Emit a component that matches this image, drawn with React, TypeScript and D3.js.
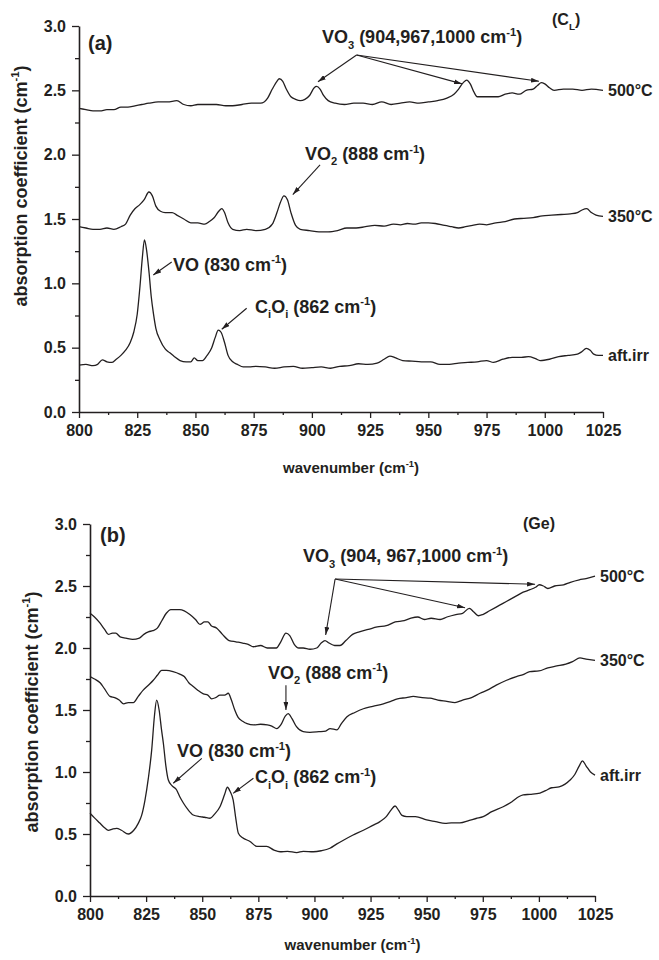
import { useEffect, useRef } from 'react';
import * as d3 from 'd3';

type Pt = [number, number];

const xTicks = [800, 825, 850, 875, 900, 925, 950, 975, 1000, 1025];
const xMinor = [812.5, 837.5, 862.5, 887.5, 912.5, 937.5, 962.5, 987.5, 1012.5];
const yTicks = [0, 0.5, 1.0, 1.5, 2.0, 2.5, 3.0];
const yMinor = [0.25, 0.75, 1.25, 1.75, 2.25, 2.75];

// panel (a), C_L sample
const a500: Pt[] = [
  [800, 2.36], [803, 2.35], [806, 2.34], [809, 2.34], [812, 2.35], [815, 2.35], [818, 2.37], [821, 2.37],
  [824, 2.38], [827, 2.39], [830, 2.4], [834, 2.41], [838, 2.41], [842, 2.42], [845, 2.39], [848, 2.38],
  [851, 2.39], [855, 2.39], [859, 2.39], [863, 2.38], [866, 2.38], [870, 2.39], [874, 2.4], [878, 2.4],
  [881, 2.44], [883, 2.51], [885, 2.57], [886, 2.59], [887.5, 2.57], [889, 2.51], [891, 2.45], [893, 2.43],
  [895, 2.42], [897, 2.43], [899, 2.46], [901, 2.52], [902, 2.53], [903.5, 2.51], [905, 2.46], [907, 2.42],
  [910, 2.4], [914, 2.39], [918, 2.4], [922, 2.4], [926, 2.39], [930, 2.41], [934, 2.39], [938, 2.4],
  [942, 2.41], [946, 2.4], [950, 2.41], [954, 2.42], [958, 2.44], [961, 2.47], [963, 2.51], [965, 2.56],
  [966.5, 2.58], [968, 2.55], [969.5, 2.49], [971, 2.45], [974, 2.45], [977, 2.45], [980, 2.45], [983, 2.47],
  [986, 2.48], [989, 2.47], [992, 2.5], [995, 2.51], [997, 2.54], [998.5, 2.56], [1000, 2.55], [1002, 2.52],
  [1004, 2.5], [1008, 2.51], [1012, 2.51], [1016, 2.5], [1020, 2.51], [1025, 2.5],
];
const a350: Pt[] = [
  [800, 1.44], [803, 1.43], [806, 1.42], [809, 1.42], [812, 1.43], [815, 1.42], [818, 1.44], [820, 1.46],
  [822, 1.53], [824, 1.58], [826, 1.61], [828, 1.65], [830, 1.71], [831.5, 1.68], [833, 1.6], [835, 1.56],
  [837, 1.55], [840, 1.55], [842, 1.53], [845, 1.5], [848, 1.47], [851, 1.47], [854, 1.46], [856, 1.48],
  [858, 1.51], [860, 1.56], [861.3, 1.58], [862.5, 1.55], [864, 1.47], [866, 1.42], [869, 1.41], [872, 1.42],
  [876, 1.41], [880, 1.42], [883, 1.46], [885, 1.55], [886.5, 1.63], [888, 1.68], [889.5, 1.65], [891, 1.55],
  [893, 1.45], [895, 1.42], [899, 1.41], [903, 1.4], [907, 1.4], [911, 1.41], [915, 1.43], [919, 1.43],
  [923, 1.44], [927, 1.45], [931, 1.445], [935, 1.46], [938, 1.455], [941, 1.465], [944, 1.46], [947, 1.47],
  [950, 1.47], [953, 1.465], [957, 1.45], [960, 1.44], [963, 1.43], [966, 1.44], [969, 1.45], [972, 1.46],
  [975, 1.455], [979, 1.47], [983, 1.48], [987, 1.5], [991, 1.505], [995, 1.51], [999, 1.525], [1003, 1.53],
  [1007, 1.535], [1011, 1.54], [1014, 1.55], [1016, 1.57], [1018, 1.58], [1020, 1.55], [1022, 1.53], [1025, 1.52],
];
const aAft: Pt[] = [
  [800, 0.365], [803, 0.37], [806, 0.36], [808, 0.37], [810, 0.405], [812, 0.39], [814, 0.385], [816, 0.41],
  [818, 0.44], [820, 0.48], [822, 0.54], [823.5, 0.62], [825, 0.76], [826.2, 0.98], [827.2, 1.2], [828.1, 1.337],
  [829, 1.26], [830.1, 1.08], [831, 0.9], [832, 0.76], [833, 0.65], [834.8, 0.56], [837, 0.49], [839, 0.46],
  [841, 0.43], [843.4, 0.4], [846, 0.39], [848, 0.39], [849.5, 0.42], [851, 0.4], [853, 0.4], [855, 0.44],
  [857, 0.5], [858.5, 0.58], [859.8, 0.637], [861, 0.62], [862.5, 0.54], [864, 0.44], [866, 0.39], [868, 0.37],
  [870.5, 0.35], [873, 0.35], [876, 0.355], [880, 0.35], [884, 0.34], [888, 0.35], [892, 0.355], [896, 0.34],
  [900, 0.345], [904, 0.35], [908, 0.34], [912, 0.355], [916, 0.36], [920, 0.375], [924, 0.37], [928, 0.38],
  [931, 0.41], [933.5, 0.435], [936, 0.42], [939, 0.4], [943, 0.395], [947, 0.39], [951, 0.39], [955, 0.37],
  [959, 0.37], [963, 0.38], [967, 0.385], [971, 0.39], [975, 0.4], [978, 0.385], [982, 0.41], [986, 0.425],
  [990, 0.425], [993, 0.43], [996, 0.415], [998, 0.4], [1002, 0.41], [1006, 0.43], [1010, 0.44], [1014, 0.45],
  [1016, 0.47], [1017.8, 0.495], [1019.5, 0.48], [1021, 0.45], [1023, 0.44], [1025, 0.44],
];

// panel (b), Ge sample
const b500: Pt[] = [
  [800, 2.28], [802, 2.25], [804.5, 2.2], [806.5, 2.15], [808.2, 2.11], [810, 2.12], [811.5, 2.12], [813.4, 2.09],
  [816, 2.08], [819, 2.07], [822, 2.08], [824, 2.11], [826, 2.13], [828, 2.14], [830, 2.16], [832, 2.22],
  [834, 2.28], [836, 2.31], [838, 2.31], [840, 2.31], [842, 2.3], [844.5, 2.27], [847, 2.23], [849, 2.19],
  [851, 2.21], [852.5, 2.21], [854, 2.18], [856.5, 2.16], [859, 2.11], [862, 2.06], [865, 2.05], [868, 2.04],
  [870.5, 2.03], [872.8, 2.01], [876, 2.02], [879, 2.0], [883, 2.0], [885, 2.05], [887.3, 2.12], [889, 2.1],
  [891, 2.03], [893, 2.0], [895, 2.0], [898, 1.99], [901, 2.0], [903, 2.04], [904.7, 2.06], [906.5, 2.04],
  [909, 2.02], [911.4, 2.02], [914, 2.06], [917, 2.11], [920, 2.13], [924, 2.15], [928, 2.17], [932, 2.18],
  [936, 2.21], [940, 2.22], [943, 2.24], [946, 2.25], [949, 2.23], [952, 2.24], [956, 2.23], [959, 2.25],
  [963, 2.27], [966, 2.28], [969, 2.32], [971, 2.29], [973, 2.26], [975, 2.27], [978, 2.3], [981, 2.33],
  [984, 2.36], [987, 2.39], [990, 2.42], [993, 2.45], [996, 2.47], [998.5, 2.49], [1000.2, 2.51], [1002, 2.5],
  [1004, 2.48], [1007, 2.5], [1011, 2.51], [1014, 2.53], [1018, 2.55], [1021, 2.56], [1025, 2.58],
];
const b350: Pt[] = [
  [800, 1.77], [802, 1.75], [804.5, 1.72], [806.5, 1.67], [808.9, 1.61], [811, 1.6], [813, 1.58], [815, 1.55],
  [817, 1.56], [819.3, 1.56], [821.5, 1.61], [823.7, 1.66], [826, 1.7], [828.2, 1.74], [830, 1.78], [831.9, 1.82],
  [834, 1.82], [837, 1.81], [840, 1.79], [842, 1.77], [844, 1.72], [846, 1.69], [848, 1.66], [850.5, 1.63],
  [852.5, 1.62], [854.2, 1.59], [856, 1.6], [857.9, 1.62], [860, 1.62], [861.6, 1.635], [863, 1.58], [864.5, 1.5],
  [866, 1.44], [868, 1.41], [870, 1.39], [873, 1.38], [876, 1.385], [879, 1.38], [881, 1.37], [883.2, 1.35],
  [885, 1.38], [887, 1.45], [888.3, 1.47], [890, 1.43], [892, 1.365], [895, 1.325], [898, 1.32], [902, 1.325],
  [905, 1.33], [907, 1.35], [910, 1.34], [912, 1.39], [914.5, 1.445], [918, 1.48], [921.8, 1.51], [926, 1.53],
  [930.7, 1.55], [934, 1.57], [937, 1.59], [941, 1.6], [944, 1.61], [948, 1.6], [951.5, 1.595], [955, 1.58],
  [959, 1.57], [962.6, 1.56], [966, 1.58], [970, 1.6], [973.8, 1.635], [977, 1.66], [981, 1.7], [985.6, 1.74],
  [990, 1.77], [993, 1.785], [996, 1.81], [1000, 1.815], [1004, 1.84], [1008, 1.855], [1012, 1.87], [1015, 1.89],
  [1018.3, 1.92], [1021, 1.91], [1025, 1.9],
];
const bAft: Pt[] = [
  [800, 0.667], [802, 0.63], [804.5, 0.586], [806.5, 0.55], [808.2, 0.53], [810, 0.54], [811.9, 0.546], [814, 0.53],
  [817.1, 0.5], [819.5, 0.53], [821.5, 0.586], [823, 0.65], [824.5, 0.774], [826, 0.95], [827.5, 1.18], [828.7, 1.45],
  [829.7, 1.58], [830.8, 1.5], [831.8, 1.35], [832.7, 1.23], [833.8, 1.05], [834.9, 0.935], [836.5, 0.89], [838.6, 0.855],
  [840, 0.8], [841.6, 0.75], [843.5, 0.7], [846, 0.653], [849, 0.64], [851, 0.635], [853.5, 0.627], [855.5, 0.66],
  [857.9, 0.72], [860, 0.82], [861.2, 0.877], [862.5, 0.84], [863.8, 0.774], [865, 0.62], [866.1, 0.506], [868, 0.47],
  [871.3, 0.44], [874.3, 0.4], [878.7, 0.4], [882, 0.37], [884.7, 0.357], [888, 0.36], [892.1, 0.35], [895, 0.36],
  [899.5, 0.357], [903, 0.365], [906.9, 0.385], [910, 0.42], [912.9, 0.45], [917, 0.49], [921.8, 0.53], [926, 0.57],
  [929.2, 0.6], [932, 0.64], [934, 0.69], [935.9, 0.726], [937.5, 0.69], [939, 0.65], [941.1, 0.64], [945, 0.64],
  [950, 0.613], [954, 0.6], [958.2, 0.586], [961, 0.59], [964.8, 0.59], [969, 0.61], [972, 0.625], [975.2, 0.64],
  [979, 0.68], [984.1, 0.72], [988, 0.76], [991, 0.8], [993, 0.815], [996, 0.82], [1000.5, 0.83], [1003, 0.85],
  [1005.7, 0.873], [1009, 0.88], [1013.9, 0.935], [1016, 0.98], [1018, 1.05], [1019.4, 1.09], [1021, 1.05], [1023, 1.0],
  [1025, 0.975],
];

const seriesLabels = ['500°C', '350°C', 'aft.irr'];

const FONT = '"Liberation Sans", Arial, Helvetica, sans-serif';
const INK = '#231f20';

// text pieces: [text, 'sub' | 'sup' | '']
type Part = [string, string];
interface Note {
  at: Pt;
  parts: Part[];
  arrows: [Pt, Pt][];
}

const notesA: Note[] = [
  { at: [904.3, 2.865], parts: [['VO', ''], ['3', 'sub'], [' (904,967,1000 cm', ''], ['-1', 'sup'], [')', '']],
    arrows: [[[919.2, 2.775], [902.6, 2.567]], [[919.2, 2.775], [964.5, 2.55]], [[919.2, 2.775], [997.5, 2.57]]] },
  { at: [897, 1.958], parts: [['VO', ''], ['2', 'sub'], [' (888 cm', ''], ['-1', 'sup'], [')', '']],
    arrows: [[[903.5, 1.92], [891.8, 1.69]]] },
  { at: [840.4, 1.096], parts: [['VO (830 cm', ''], ['-1', 'sup'], [')', '']],
    arrows: [[[839.8, 1.166], [831.9, 1.065]]] },
  { at: [875.6, 0.77], parts: [['C', ''], ['i', 'sub'], ['O', ''], ['i', 'sub'], [' (862 cm', ''], ['-1', 'sup'], [')', '']],
    arrows: [[[872, 0.806], [861.3, 0.643]]] },
];

const notesB: Note[] = [
  { at: [894.9, 2.69], parts: [['VO', ''], ['3', 'sub'], [' (904, 967,1000 cm', ''], ['-1', 'sup'], [')', '']],
    arrows: [[[909.2, 2.556], [998.3, 2.514]], [[909.2, 2.556], [967.1, 2.325]], [[909.2, 2.556], [905, 2.105]]] },
  { at: [879.3, 1.75], parts: [['VO', ''], ['2', 'sub'], [' (888 cm', ''], ['-1', 'sup'], [')', '']],
    arrows: [[[887.3, 1.7], [887.3, 1.5]]] },
  { at: [838.8, 1.12], parts: [['VO (830 cm', ''], ['-1', 'sup'], [')', '']],
    arrows: [[[849.8, 1.11], [837.1, 0.909]]] },
  { at: [873.5, 0.91], parts: [['C', ''], ['i', 'sub'], ['O', ''], ['i', 'sub'], [' (862 cm', ''], ['-1', 'sup'], [')', '']],
    arrows: [[[872.8, 0.95], [863.8, 0.828]]] },
];

interface PanelCfg {
  left: number; right: number; top: number; bottom: number;
  series: Pt[][];
  notes: Note[];
  tag: string; tagAt: Pt;
  sample: Part[]; sampleAt: Pt;
  yLabelX: number; yLabelY: number; xLabelY: number;
}

const panels: PanelCfg[] = [
  { left: 79, right: 603, top: 26, bottom: 412, series: [a500, a350, aAft], notes: notesA,
    tag: '(a)', tagAt: [803.9, 2.81], sample: [['(C', ''], ['L', 'sub'], [')', '']], sampleAt: [1003.1, 3.01],
    yLabelX: 27, yLabelY: 186, xLabelY: 473 },
  { left: 90, right: 595, top: 524, bottom: 896, series: [b500, b350, bAft], notes: notesB,
    tag: '(b)', tagAt: [804.5, 2.855], sample: [['(Ge)', '']], sampleAt: [992.9, 2.96],
    yLabelX: 38, yLabelY: 712, xLabelY: 950 },
];

// rich text with sub/superscripts
function richText(g: any, x: number, y: number, parts: Part[], size: number) {
  const t = g.append('text').attr('x', x).attr('y', y)
    .attr('font-family', FONT).attr('font-weight', 'bold').attr('font-size', size).attr('fill', INK);
  let cur = 0;
  parts.forEach(([s, kind]) => {
    const off = kind === 'sub' ? size * 0.3 : kind === 'sup' ? -size * 0.42 : 0;
    t.append('tspan').attr('dy', off - cur)
      .attr('font-size', kind ? size * 0.62 : size)
      .text(s);
    cur = off;
  });
  return t;
}

function drawPanel(svg: any, p: PanelCfg) {
  const x = d3.scaleLinear().domain([800, 1025]).range([p.left, p.right]);
  const y = d3.scaleLinear().domain([0, 3]).range([p.bottom, p.top]);
  const g = svg.append('g');

  // minor ticks first, then major axis on top
  g.append('g').attr('transform', `translate(0,${p.bottom})`)
    .call(d3.axisBottom(x).tickValues(xMinor).tickSize(3).tickFormat(() => ''))
    .call((s: any) => s.select('.domain').remove());
  g.append('g').attr('transform', `translate(${p.left},0)`)
    .call(d3.axisLeft(y).tickValues(yMinor).tickSize(4).tickFormat(() => ''))
    .call((s: any) => s.select('.domain').remove());

  const xa = g.append('g').attr('transform', `translate(0,${p.bottom})`)
    .call(d3.axisBottom(x).tickValues(xTicks).tickSize(6).tickSizeOuter(0).tickPadding(7).tickFormat(d3.format('d')));
  const ya = g.append('g').attr('transform', `translate(${p.left},0)`)
    .call(d3.axisLeft(y).tickValues(yTicks).tickSize(7).tickSizeOuter(0).tickPadding(6).tickFormat(d3.format('.1f')));

  [xa, ya].forEach((a) => {
    a.select('.domain').attr('stroke', INK).attr('stroke-width', 1.6);
    a.selectAll('text').attr('font-family', FONT).attr('font-weight', 'bold')
      .attr('font-size', 16).attr('fill', INK);
  });
  g.selectAll('.tick line').attr('stroke', INK).attr('stroke-width', 1.3);

  // spectra
  const line = d3.line<Pt>().x((d) => x(d[0])).y((d) => y(d[1])).curve(d3.curveMonotoneX);
  p.series.forEach((s, i) => {
    g.append('path').datum(s).attr('d', line).attr('fill', 'none')
      .attr('stroke', INK).attr('stroke-width', 1.3);
    const last = s[s.length - 1];
    g.append('text').attr('x', x(last[0]) + 5).attr('y', y(last[1])).attr('dy', '0.36em')
      .attr('font-family', FONT).attr('font-weight', 'bold').attr('font-size', 16).attr('fill', INK)
      .text(seriesLabels[i]);
  });

  // annotations
  p.notes.forEach((n) => {
    richText(g, x(n.at[0]), y(n.at[1]), n.parts, 18);
    n.arrows.forEach(([a, b]) => {
      g.append('line').attr('x1', x(a[0])).attr('y1', y(a[1])).attr('x2', x(b[0])).attr('y2', y(b[1]))
        .attr('stroke', INK).attr('stroke-width', 1.1).attr('marker-end', 'url(#arrow)');
    });
  });

  richText(g, x(p.tagAt[0]), y(p.tagAt[1]), [[p.tag, '']], 20);
  richText(g, x(p.sampleAt[0]), y(p.sampleAt[1]), p.sample, 16);

  // axis titles
  richText(g, (p.left + p.right) / 2 + 10, p.xLabelY, [['wavenumber (cm', ''], ['-1', 'sup'], [')', '']], 15)
    .attr('text-anchor', 'middle');
  richText(g, 0, 0, [['absorption coefficient (cm', ''], ['-1', 'sup'], [')', '']], 18)
    .attr('text-anchor', 'middle')
    .attr('transform', `translate(${p.yLabelX},${p.yLabelY}) rotate(-90)`);
}

export default function App() {
  const svgRef = useRef<SVGSVGElement | null>(null);

  useEffect(() => {
    if (!svgRef.current) return;
    const svg = d3.select(svgRef.current);
    svg.selectAll('*').remove();

    svg.append('defs').append('marker')
      .attr('id', 'arrow').attr('viewBox', '0 0 10 6').attr('refX', 10).attr('refY', 3)
      .attr('markerWidth', 8).attr('markerHeight', 5).attr('markerUnits', 'userSpaceOnUse')
      .attr('orient', 'auto')
      .append('path').attr('d', 'M0,0 L10,3 L0,6 Z').attr('fill', INK);

    panels.forEach((p) => drawPanel(svg, p));
  }, []);

  return (
    <div style={{ position: 'absolute', left: 0, top: 0 }}>
      <svg ref={svgRef} width={659} height={960} style={{ display: 'block', background: '#fff' }} />
    </div>
  );
}
